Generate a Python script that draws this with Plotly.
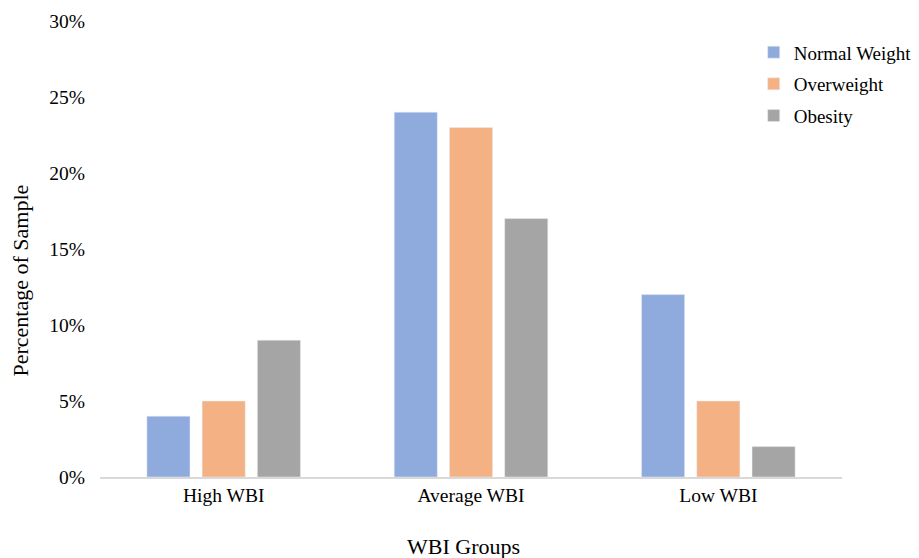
import plotly.graph_objects as go

categories = ["High WBI", "Average WBI", "Low WBI"]
normal_weight = [4, 24, 12]
overweight = [5, 23, 5]
obesity = [9, 17, 2]
y_ticks = [0, 5, 10, 15, 20, 25, 30]
y_tick_labels = ["0%", "5%", "10%", "15%", "20%", "25%", "30%"]

font_family = "Liberation Serif, Times New Roman, serif"

# page body adds an 8px offset; plot area target: x 100..842, y 21..477
fig = go.Figure()
fig.add_trace(go.Bar(name="Normal Weight", x=categories, y=normal_weight, marker_color="#8faadc", legendgroup="a"))
fig.add_trace(go.Bar(name="Overweight", x=categories, y=overweight, marker_color="#f4b183", legendgroup="b"))
fig.add_trace(go.Bar(name="Obesity", x=categories, y=obesity, marker_color="#a5a5a5", legendgroup="c"))

fig.update_layout(
    width=919, height=558,
    margin=dict(l=92, r=85, t=13, b=89, autoexpand=False),
    paper_bgcolor="white", plot_bgcolor="white",
    barmode="group", bargap=0.33, bargroupgap=0.22,
    font=dict(family=font_family, size=19.5, color="black"),
    showlegend=True,
    legend=dict(x=0.881, y=0.973, xanchor="left", yanchor="top",
                font=dict(size=19, family=font_family), tracegroupgap=4,
                itemwidth=30, bgcolor="rgba(0,0,0,0)"),
    xaxis=dict(
        showline=True, linecolor="#d9d9d9", linewidth=1.5,
        ticks="", showgrid=False, automargin=False,
        tickfont=dict(size=19.5),
    ),
    yaxis=dict(
        range=[0, 30], tickvals=y_ticks, ticktext=y_tick_labels,
        showgrid=False, zeroline=False, showline=False, ticks="",
        automargin=False,
        tickfont=dict(size=19.5), ticklabelstandoff=14,
    ),
    annotations=[
        dict(text="Percentage of Sample", textangle=-90, xref="paper", yref="paper",
             x=-0.107, y=0.43, xanchor="center", yanchor="middle", showarrow=False,
             font=dict(size=22, family=font_family, color="black")),
        dict(text="WBI Groups", xref="paper", yref="paper",
             x=0.49, y=-0.152, xanchor="center", yanchor="middle", showarrow=False,
             font=dict(size=22, family=font_family, color="black")),
    ],
)

fig.write_html("out.html")
